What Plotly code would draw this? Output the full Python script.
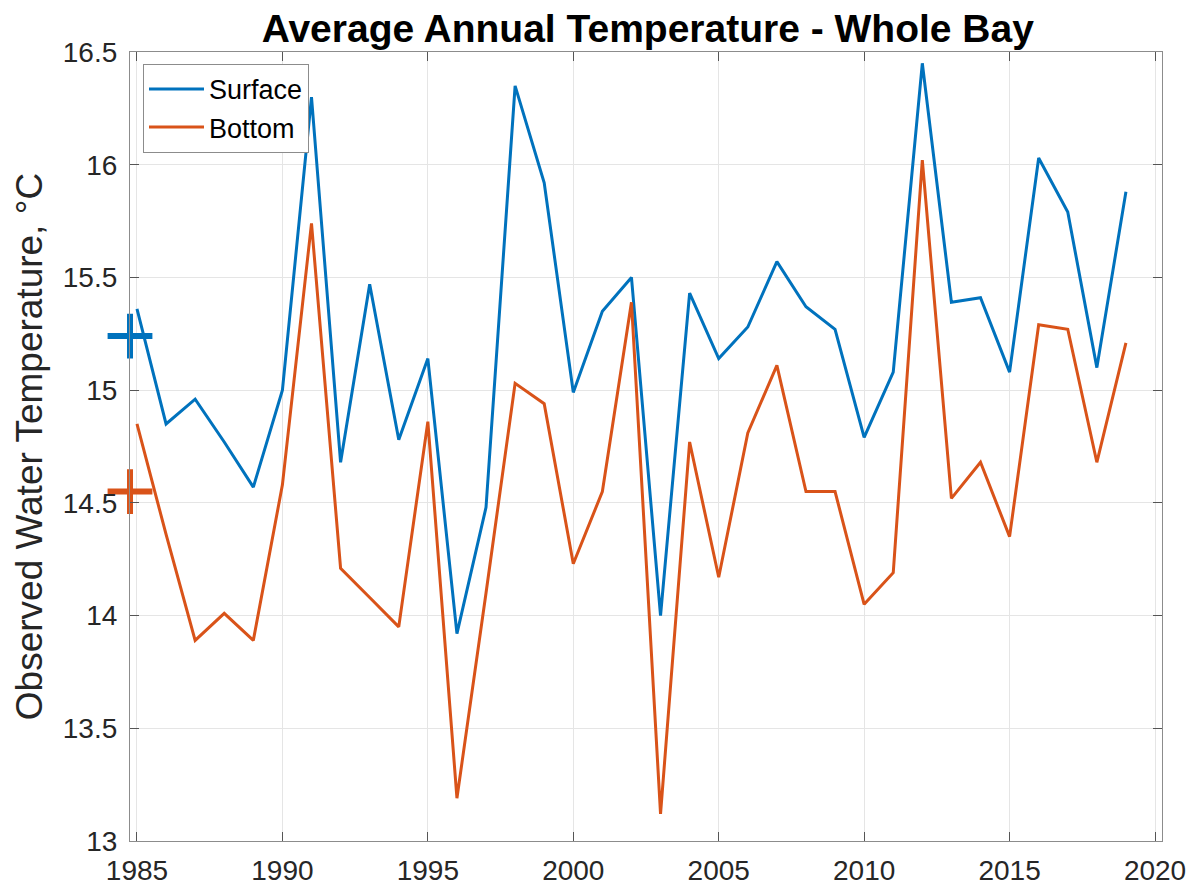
import plotly.graph_objects as go

years = list(range(1985, 2020))
surface = [15.36, 14.85, 14.96, 14.77, 14.57, 15.00, 16.30, 14.68, 15.47, 14.78,
           15.14, 13.92, 14.48, 16.35, 15.92, 14.99, 15.35, 15.50, 14.00, 15.43,
           15.14, 15.28, 15.57, 15.37, 15.27, 14.79, 15.08, 16.45, 15.39, 15.41,
           15.08, 16.03, 15.79, 15.10, 15.88]
bottom = [14.85, 14.36, 13.89, 14.01, 13.89, 14.58, 15.74, 14.21, 14.08, 13.95,
          14.86, 13.19, 14.10, 15.03, 14.94, 14.23, 14.55, 15.39, 13.12, 14.77,
          14.17, 14.81, 15.11, 14.55, 14.55, 14.05, 14.19, 16.02, 14.52, 14.68,
          14.35, 15.29, 15.27, 14.68, 15.21]
surface_mark = 15.24
bottom_mark = 14.55

x_range = [1984.76, 2020.24]
y_range = [13, 16.5]
x_ticks = [1985, 1990, 1995, 2000, 2005, 2010, 2015, 2020]
y_ticks = [13, 13.5, 14, 14.5, 15, 15.5, 16, 16.5]

BLUE = "#0072BD"
ORANGE = "#D95319"
FONT = "Liberation Sans, Arial, Helvetica, sans-serif"

fig = go.Figure()
fig.add_trace(go.Scatter(x=years, y=surface, mode="lines", name="Surface",
                         line=dict(color=BLUE, width=3)))
fig.add_trace(go.Scatter(x=years, y=bottom, mode="lines", name="Bottom",
                         line=dict(color=ORANGE, width=3)))
fig.add_trace(go.Scatter(x=[x_range[0]], y=[surface_mark], mode="markers",
                         showlegend=False, cliponaxis=False,
                         marker=dict(symbol="cross-thin", size=32,
                                     line=dict(color=BLUE, width=6))))
fig.add_trace(go.Scatter(x=[x_range[0]], y=[bottom_mark], mode="markers",
                         showlegend=False, cliponaxis=False,
                         marker=dict(symbol="cross-thin", size=32,
                                     line=dict(color=ORANGE, width=6))))

axis_common = dict(showline=True, linecolor="#8c8c8c", linewidth=1.2,
                   mirror="ticks", ticks="inside", ticklen=9, tickwidth=1,
                   tickcolor="#555555", showgrid=True, gridcolor="#e5e5e5",
                   gridwidth=1, zeroline=False, automargin=False,
                   tickfont=dict(family=FONT, size=28, color="#262626"))

fig.update_xaxes(range=x_range, tickvals=x_ticks, ticklabelstandoff=4, **axis_common)
fig.update_yaxes(range=y_range, tickvals=y_ticks,
                 title=dict(text="Observed Water Temperature, °C",
                            font=dict(family=FONT, size=37, color="#262626"),
                            standoff=8),
                 ticklabelstandoff=6, **axis_common)

# page body has an 8px default margin, so the figure is sized to fit the window
fig.update_layout(
    width=1187, height=882,
    margin=dict(l=122, r=33, t=44, b=49),
    paper_bgcolor="white", plot_bgcolor="white",
    title=dict(text="<b>Average Annual Temperature - Whole Bay</b>",
               x=0.539, xanchor="center", y=0.977, yanchor="middle",
               font=dict(family=FONT, size=39, color="black")),
    legend=dict(x=0.0126, y=0.985, xanchor="left", yanchor="top",
                bgcolor="white", bordercolor="#8c8c8c", borderwidth=1,
                font=dict(family=FONT, size=27, color="black"),
                itemwidth=55, tracegroupgap=0),
    showlegend=True,
)

fig.write_html("out.html")
